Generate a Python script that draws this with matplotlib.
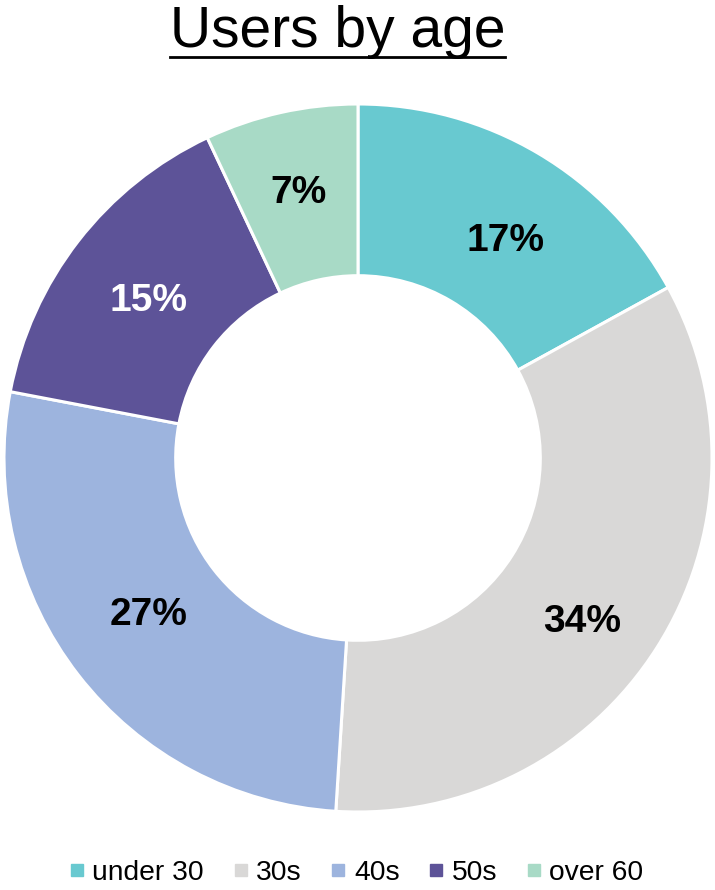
import matplotlib
matplotlib.use("Agg")
import matplotlib.pyplot as plt
from matplotlib.lines import Line2D

plt.rcParams['font.family'] = ['Liberation Sans', 'DejaVu Sans']

categories = ["under 30", "30s", "40s", "50s", "over 60"]
values = [17, 34, 27, 15, 7]
colors = ["#68C9D0", "#D9D8D7", "#9DB4DE", "#5D5398", "#A8DAC6"]
label_colors = ["black", "black", "black", "white", "black"]
title = "Users by age"

W, H = 715, 890
fig = plt.figure(figsize=(W / 100, H / 100), dpi=100)

cx, cy, R = 358, 458, 354
ax = fig.add_axes([(cx - R) / W, (H - cy - R) / H, 2 * R / W, 2 * R / H])
wedges, texts, autotexts = ax.pie(
    values, colors=colors, startangle=90, counterclock=False, radius=1,
    wedgeprops=dict(width=0.485, edgecolor="white", linewidth=2.2),
    autopct=lambda p: f"{p:.0f}%", pctdistance=0.76,
    textprops=dict(fontsize=28, fontweight="bold"))
# small layout nudges of the labels (pixels, x right / y down)
label_nudge = [(11, 15), (-3, 20), (3, -8), (3, 8), (-1, -2)]
for t, c, (dx, dy) in zip(autotexts, label_colors, label_nudge):
    t.set_color(c)
    x, y = t.get_position()
    t.set_position((x + dx / R, y - dy / R))
ax.set_xlim(-1.0, 1.0)
ax.set_ylim(-1.0, 1.0)
ax.set_aspect("equal")
ax.axis("off")

# Title with underline
fig.text(338 / W, 1 - 32 / H, title, ha="center", va="center", fontsize=41)
fig.add_artist(Line2D([170 / W, 505 / W], [1 - 57 / H, 1 - 57 / H],
                      transform=fig.transFigure, color="black", lw=2))

handles = [Line2D([0], [0], marker="s", linestyle="none", markersize=8,
                  markerfacecolor=c, markeredgecolor=c) for c in colors]
fig.legend(handles, categories, loc="center", bbox_to_anchor=(356 / W, 1 - 873 / H),
           ncol=5, frameon=False, fontsize=20.3, handlelength=0.6,
           handletextpad=0.25, columnspacing=1.0, borderaxespad=0)

fig.savefig("out.png", dpi=100)
